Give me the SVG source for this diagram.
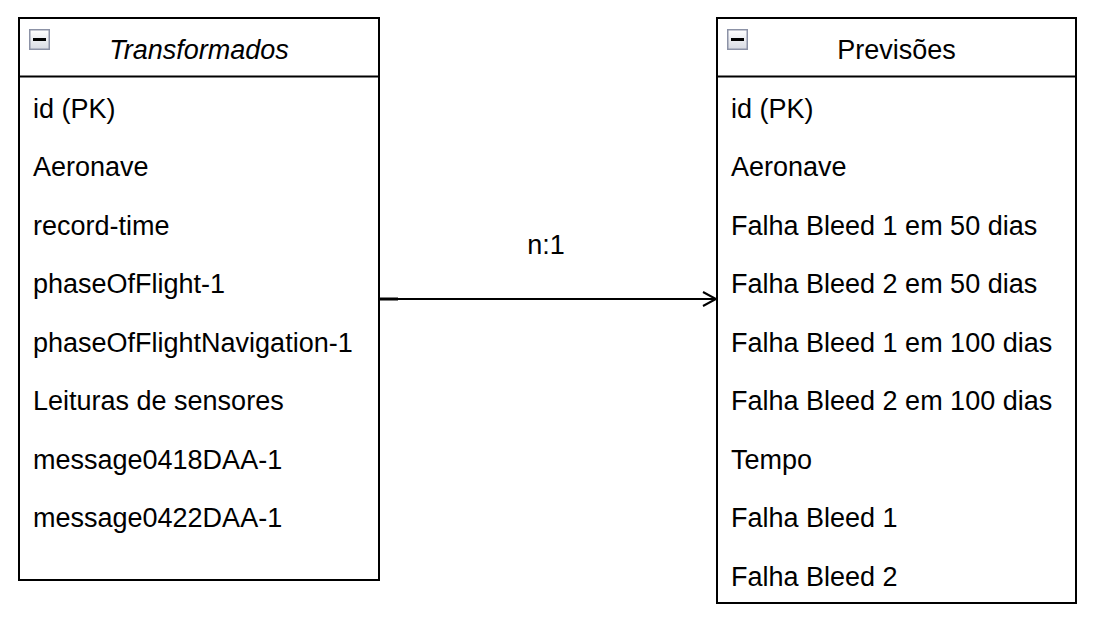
<svg xmlns="http://www.w3.org/2000/svg" width="1094" height="628" viewBox="0 0 1094 628">
<defs>
<linearGradient id="ig" x1="0" y1="0" x2="0" y2="1">
<stop offset="0" stop-color="#ffffff"/>
<stop offset="1" stop-color="#d8dbe3"/>
</linearGradient>
<g id="fold">
<rect x="0.75" y="0.75" width="19.5" height="19.5" fill="url(#ig)" stroke="#8c92a6" stroke-width="1.5"/>
<rect x="4" y="9" width="13" height="3" fill="#000"/>
</g>
</defs>
<style>
.box{fill:#fff;stroke:#000;stroke-width:2}
.sep{stroke:#000;stroke-width:2}
text{font-family:"Liberation Sans",Arial,Helvetica,sans-serif;font-size:27px;fill:#000}
.hd{text-anchor:middle}
.it{font-style:italic}
.edge{stroke:#000;stroke-width:2;fill:none}
</style>
<rect width="1094" height="628" fill="#fff"/>
<g id="transformados">
<rect class="box" x="19" y="18" width="360" height="562"/>
<line class="sep" x1="19" y1="76.5" x2="379" y2="76.5"/>
<use href="#fold" x="29" y="29"/>
<text class="hd it" x="199" y="58.5">Transformados</text>
<text x="33" y="117.5">id (PK)</text>
<text x="33" y="176">Aeronave</text>
<text x="33" y="234.5">record-time</text>
<text x="33" y="293">phaseOfFlight-1</text>
<text x="33" y="351.5">phaseOfFlightNavigation-1</text>
<text x="33" y="410">Leituras de sensores</text>
<text x="33" y="468.5">message0418DAA-1</text>
<text x="33" y="527">message0422DAA-1</text>
</g>
<g id="previsoes">
<rect class="box" x="717" y="18" width="359" height="585"/>
<line class="sep" x1="717" y1="76.5" x2="1076" y2="76.5"/>
<use href="#fold" x="727" y="29"/>
<text class="hd" x="896.5" y="58.5">Previsões</text>
<text x="731" y="117.5">id (PK)</text>
<text x="731" y="176">Aeronave</text>
<text x="731" y="234.5">Falha Bleed 1 em 50 dias</text>
<text x="731" y="293">Falha Bleed 2 em 50 dias</text>
<text x="731" y="351.5">Falha Bleed 1 em 100 dias</text>
<text x="731" y="410">Falha Bleed 2 em 100 dias</text>
<text x="731" y="468.5">Tempo</text>
<text x="731" y="527">Falha Bleed 1</text>
<text x="731" y="585.5">Falha Bleed 2</text>
</g>
<g id="connectors">
<line class="edge" x1="379" y1="299" x2="715" y2="299"/>
<line stroke="#000" stroke-width="3" x1="379" y1="299" x2="398" y2="299"/>
<polyline class="edge" points="703,292 716,299 703,306" stroke-width="2.2"/>
<text class="hd" x="546" y="254">n:1</text>
</g>
</svg>
